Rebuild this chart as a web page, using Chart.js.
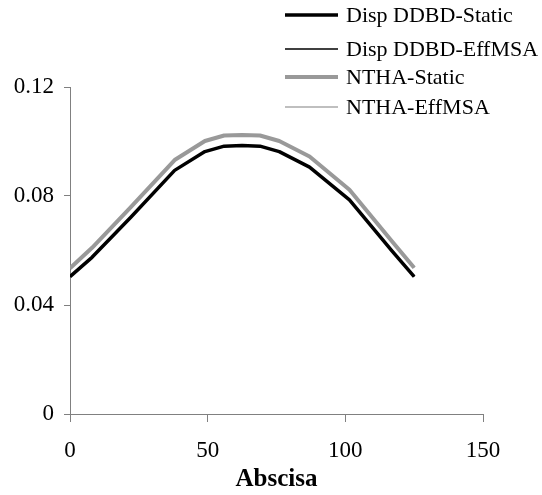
<!DOCTYPE html>
<html>
<head>
<meta charset="utf-8">
<script src="https://cdn.jsdelivr.net/npm/chart.js@4/dist/chart.umd.min.js"></script>
<style>
html,body{margin:0;padding:0;background:#fff}
#wrap{width:542px;height:495px}
</style>
</head>
<body>
<div id="wrap"><canvas id="chart" width="542" height="495"></canvas></div>
<script>
// abscisa positions
const abscisa = [0, 8, 22, 38, 49, 56, 62.5, 69, 76, 87, 101.5, 117, 125]

// series values
const dispStatic = [0.0504, 0.0575, 0.0721, 0.0894, 0.0963, 0.0983, 0.0985, 0.0983, 0.0963, 0.0906, 0.0786, 0.0598, 0.0504]
const dispEffMSA = [0.0504, 0.0575, 0.0721, 0.0894, 0.0963, 0.0983, 0.0985, 0.0983, 0.0963, 0.0906, 0.0786, 0.0598, 0.0504]
const nthaStatic = [0.0535, 0.0610, 0.0758, 0.0932, 0.1002, 0.1022, 0.1024, 0.1022, 0.1002, 0.0945, 0.0823, 0.0633, 0.0537]
const nthaEffMSA = [0.0535, 0.0610, 0.0758, 0.0932, 0.1002, 0.1022, 0.1024, 0.1022, 0.1002, 0.0945, 0.0823, 0.0633, 0.0537]

const seriesNames = ["Disp DDBD-Static", "Disp DDBD-EffMSA", "NTHA-Static", "NTHA-EffMSA"]
const yTicks = [0, 0.04, 0.08, 0.12]
const xTicks = [0, 50, 100, 150]
const xTitle = "Abscisa"

const pts = arr => arr.map((v,i)=>({x:abscisa[i], y:v}))

const serif = "'Liberation Serif','Times New Roman',serif"
const axisGrey = "#808080"

// legend drawn as a vertical list at the top right
const legendRows = [15, 49, 77, 107]
const sideLegend = {
  id:"sideLegend",
  afterDraw(chart){
    const ctx = chart.ctx
    ctx.save()
    chart.data.datasets.forEach((ds,i)=>{
      const y = legendRows[i]
      ctx.strokeStyle = ds.borderColor
      ctx.lineWidth = ds.borderWidth
      ctx.beginPath()
      ctx.moveTo(285, y)
      ctx.lineTo(338, y)
      ctx.stroke()
      ctx.fillStyle = "#000"
      ctx.font = "22px " + serif
      ctx.textBaseline = "middle"
      ctx.textAlign = "left"
      ctx.fillText(ds.label, 346, y + 1)
    })
    ctx.restore()
  }
}

new Chart(document.getElementById("chart"), {
  type:"line",
  data:{
    datasets:[
      {label:seriesNames[0], data:pts(dispStatic), borderColor:"#000000", borderWidth:3.5},
      {label:seriesNames[1], data:pts(dispEffMSA), borderColor:"#000000", borderWidth:1.5},
      {label:seriesNames[2], data:pts(nthaStatic), borderColor:"#999999", borderWidth:4},
      {label:seriesNames[3], data:pts(nthaEffMSA), borderColor:"#aaaaaa", borderWidth:1.5}
    ]
  },
  options:{
    responsive:false,
    animation:false,
    layout:{padding:{left:0, right:59, top:87, bottom:0}},
    elements:{
      line:{tension:0, fill:false, borderCapStyle:"butt", borderJoinStyle:"round"},
      point:{radius:0, hoverRadius:0}
    },
    plugins:{
      legend:{display:false},
      tooltip:{enabled:false}
    },
    scales:{
      x:{
        type:"linear",
        min:0, max:150,
        afterBuildTicks(scale){ scale.ticks = xTicks.map(v=>({value:v})) },
        afterFit(scale){ scale.height = 81 },
        grid:{drawOnChartArea:false, drawTicks:true, tickLength:8, color:axisGrey, lineWidth:1},
        border:{display:true, color:axisGrey, width:1},
        ticks:{color:"#000", font:{family:serif, size:23}, padding:15, maxRotation:0},
        title:{display:true, text:xTitle, color:"#000", font:{family:serif, size:25, weight:"bold"}, padding:{top:0, bottom:0}}
      },
      y:{
        min:0, max:0.12,
        afterBuildTicks(scale){ scale.ticks = yTicks.map(v=>({value:v})) },
        afterFit(scale){ scale.width = 70 },
        grid:{drawOnChartArea:false, drawTicks:true, tickLength:6, color:axisGrey, lineWidth:1},
        border:{display:true, color:axisGrey, width:1},
        ticks:{color:"#000", font:{family:serif, size:23}, padding:10,
          callback:v=> v===0 ? "0" : v.toFixed(2)}
      }
    }
  },
  plugins:[sideLegend]
})
</script>
</body>
</html>
